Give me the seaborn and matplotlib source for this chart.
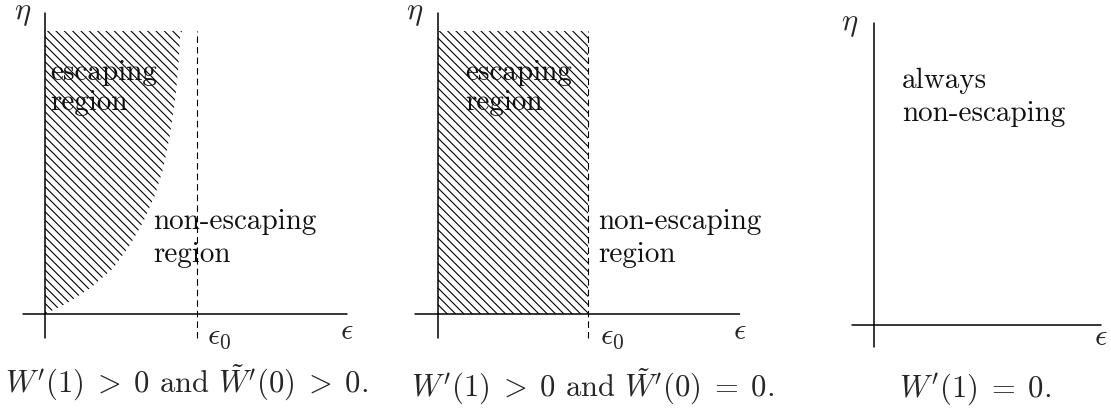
import matplotlib
matplotlib.use("Agg")
import matplotlib.pyplot as plt
import seaborn as sns

# boundary of the escaping region in the first panel (eps in units of eps0)
curve_eps = [0.0, 0.143, 0.296, 0.449, 0.559, 0.647, 0.724, 0.778, 0.822, 0.855, 0.877, 0.888, 0.901]
curve_eta = [0.0, 0.070, 0.169, 0.301, 0.454, 0.607, 0.783, 0.959, 1.178, 1.397, 1.616, 1.814, 1.862]
eps0 = 1.0
eta_top = [1.862, 1.887]          # upper edge of the hatched region, panels 1 and 2
captions = [r"$W'(1)\;>\;0$ and $\tilde{W}'(0)\;>\;0$.",
            r"$W'(1)\;>\;0$ and $\tilde{W}'(0)\;=\;0$.",
            r"$W'(1)\;=\;0$."]

sns.set_theme(style="white")
plt.rcParams["font.family"] = ["cmr10", "DejaVu Serif"]
plt.rcParams["mathtext.fontset"] = "cm"
plt.rcParams["axes.unicode_minus"] = False
plt.rcParams["hatch.linewidth"] = 0.8

W, H = 1111, 412
fig = plt.figure(figsize=(W / 100, H / 100), dpi=100)

# pixel span of each panel, origin of the (eps, eta) axes in pixels, pixels per unit
panels = [
    dict(span=(0, 370), origin=(45, 314), scale=152),
    dict(span=(370, 740), origin=(438, 314), scale=150),
    dict(span=(740, 1111), origin=(874, 325), scale=150),
]

axes = []
for p in panels:
    x0, x1 = p["span"]
    ax = fig.add_axes([x0 / W, 0, (x1 - x0) / W, 1])
    ax.set_axis_off()
    axes.append(ax)


def set_limits(ax, p):
    x0, x1 = p["span"]
    ox, oy = p["origin"]
    s = p["scale"]
    ax.set_xlim((x0 - ox) / s, (x1 - ox) / s)
    ax.set_ylim((oy - H) / s, oy / s)


def draw_axes(ax, xr, yr):
    sns.lineplot(x=list(xr), y=[0, 0], ax=ax, color="black", lw=1.1,
                 estimator=None, sort=False)
    sns.lineplot(x=[0, 0], y=list(yr), ax=ax, color="black", lw=1.1,
                 estimator=None, sort=False)


def dashed(ax, y0, y1):
    sns.lineplot(x=[eps0, eps0], y=[y0, y1], ax=ax, color="black", lw=0.8,
                 linestyle=(0, (5.9, 3.6)), estimator=None, sort=False)


def label(ax, x, ys, lines, size=21):
    for y, t in zip(ys, lines):
        ax.text(x, y, t, fontsize=size, ha="left", va="baseline", color="#111111")


lab = 22
hatch = "\\\\\\\\"

# panel 1: curved boundary
ax = axes[0]
ax.fill_betweenx(curve_eta, 0, curve_eps, facecolor="none", edgecolor="black",
                 hatch=hatch, linewidth=0)
draw_axes(ax, (-0.145, 1.987), (-0.158, 1.98))
dashed(ax, -0.158, eta_top[0])
ax.text(-0.145, 1.975, r"$\eta$", fontsize=lab, ha="center", va="center")
ax.text(1.987, -0.164, r"$\epsilon$", fontsize=lab, ha="center", va="baseline")
ax.text(1.066, -0.197, r"$\epsilon_0$", fontsize=lab, ha="left", va="baseline")
label(ax, 0.033, [1.54, 1.34], ["escaping", "region"])
label(ax, 0.711, [0.559, 0.342], ["non-escaping", "region"])
set_limits(ax, panels[0])

# panel 2: straight boundary at eps0
ax = axes[1]
ax.fill_betweenx([0, eta_top[1]], 0, eps0, facecolor="none", edgecolor="black",
                 hatch=hatch, linewidth=0)
draw_axes(ax, (-0.153, 2.013), (-0.16, 2.007))
dashed(ax, -0.16, eta_top[1])
ax.text(-0.153, 1.997, r"$\eta$", fontsize=lab, ha="center", va="center")
ax.text(2.013, -0.167, r"$\epsilon$", fontsize=lab, ha="center", va="baseline")
ax.text(1.08, -0.2, r"$\epsilon_0$", fontsize=lab, ha="left", va="baseline")
label(ax, 0.18, [1.56, 1.36], ["escaping", "region"])
label(ax, 1.067, [0.567, 0.347], ["non-escaping", "region"])
set_limits(ax, panels[1])

# panel 3: nothing escapes
ax = axes[2]
draw_axes(ax, (-0.147, 1.513), (-0.147, 2.013))
ax.text(-0.16, 2.0, r"$\eta$", fontsize=lab, ha="center", va="center")
ax.text(1.513, -0.133, r"$\epsilon$", fontsize=lab, ha="center", va="baseline")
label(ax, 0.187, [1.58, 1.36], ["always", "non-escaping"])
set_limits(ax, panels[2])

# captions below each panel
cap_x = [187, 593, 975]
cap_base = [393, 397, 397]
for cx, cy, c in zip(cap_x, cap_base, captions):
    fig.text(cx / W, (H - cy) / H, c, fontsize=22, ha="center", va="baseline")

fig.savefig("out.png", dpi=100)
